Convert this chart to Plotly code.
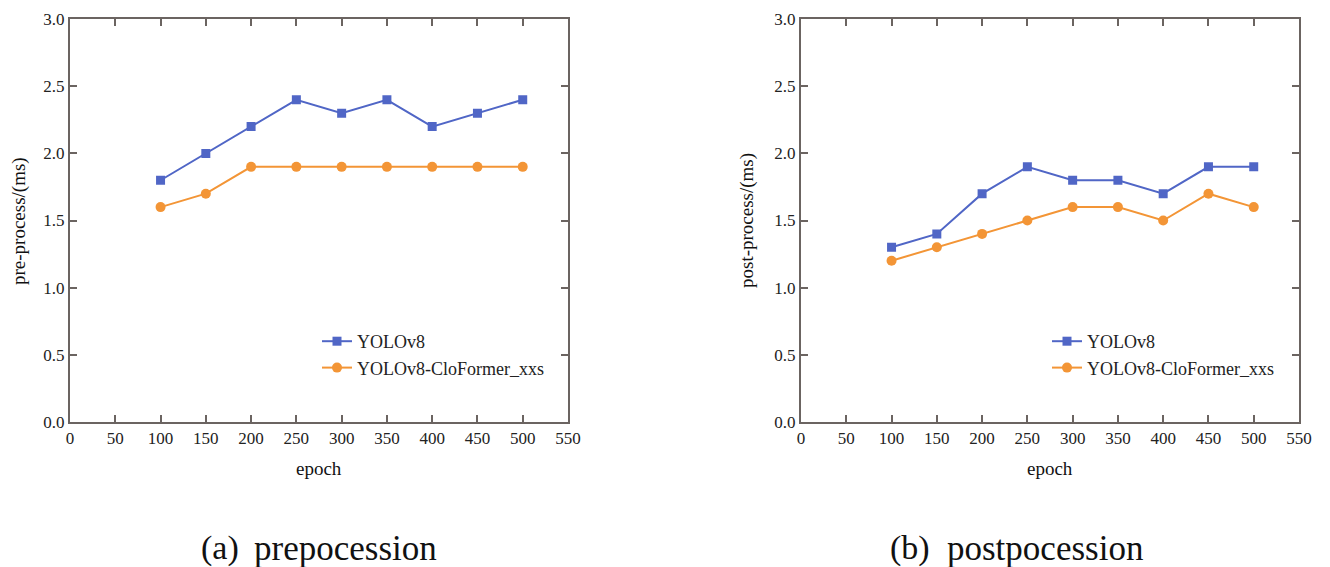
import plotly.graph_objects as go

epochs = [100, 150, 200, 250, 300, 350, 400, 450, 500]
pre_yolov8 = [1.8, 2.0, 2.2, 2.4, 2.3, 2.4, 2.2, 2.3, 2.4]
pre_cloformer = [1.6, 1.7, 1.9, 1.9, 1.9, 1.9, 1.9, 1.9, 1.9]
post_yolov8 = [1.3, 1.4, 1.7, 1.9, 1.8, 1.8, 1.7, 1.9, 1.9]
post_cloformer = [1.2, 1.3, 1.4, 1.5, 1.6, 1.6, 1.5, 1.7, 1.6]
series_names = ["YOLOv8", "YOLOv8-CloFormer_xxs"]
x_ticks = list(range(0, 551, 50))
y_ticks = [0.0, 0.5, 1.0, 1.5, 2.0, 2.5, 3.0]

W, H = 1330, 567
BLUE = "#5066c6"
ORANGE = "#f39536"
AX = "#6b6461"
FONT = "Liberation Serif"

def px(v):
    return v / W

def py(v):
    return 1 - v / H

fig = go.Figure()

for xa, ya, leg, yv, cv in [("x", "y", "legend", pre_yolov8, pre_cloformer),
                             ("x2", "y2", "legend2", post_yolov8, post_cloformer)]:
    fig.add_trace(go.Scatter(x=epochs, y=yv, name=series_names[0], xaxis=xa, yaxis=ya,
                             mode="lines+markers", legend=leg,
                             line=dict(color=BLUE, width=2),
                             marker=dict(symbol="square", size=9, color=BLUE)))
    fig.add_trace(go.Scatter(x=epochs, y=cv, name=series_names[1], xaxis=xa, yaxis=ya,
                             mode="lines+markers", legend=leg,
                             line=dict(color=ORANGE, width=2),
                             marker=dict(symbol="circle", size=10, color=ORANGE)))

ydom = [py(421.7), py(19.3)]
common_x = dict(range=[0, 550], tickvals=x_ticks, ticks="inside", ticklen=7, tickcolor=AX,
                tickwidth=1.5, showline=True, linecolor=AX, linewidth=2, mirror="ticks",
                showgrid=False, zeroline=False, automargin=False,
                tickfont=dict(family=FONT, size=17, color="#222"))
common_y = dict(range=[0, 3], tickvals=y_ticks, tickformat=".1f", ticks="inside", ticklen=7,
                tickcolor=AX, tickwidth=1.5, showline=True, linecolor=AX, linewidth=2,
                mirror="ticks", showgrid=False, zeroline=False, automargin=False,
                tickfont=dict(family=FONT, size=17, color="#222"))

leg_common = dict(xanchor="left", yanchor="top", bgcolor="rgba(0,0,0,0)",
                  font=dict(family=FONT, size=18, color="#222"), tracegroupgap=0, itemwidth=30)

fig.update_layout(
    width=W, height=H, margin=dict(l=0, r=0, t=0, b=0, pad=0, autoexpand=False),
    paper_bgcolor="white", plot_bgcolor="white",
    xaxis=dict(domain=[px(70), px(568)], anchor="y", **common_x),
    yaxis=dict(domain=ydom, anchor="x", **common_y),
    xaxis2=dict(domain=[px(801), px(1299)], anchor="y2", **common_x),
    yaxis2=dict(domain=ydom, anchor="x2", **common_y),
    legend=dict(x=px(317), y=py(323), **leg_common),
    legend2=dict(x=px(1047), y=py(323), **leg_common),
    showlegend=True,
)

annotations = [
    dict(text="pre-process/(ms)", x=px(19), y=py(221), textangle=-90, font_size=19, xa="center"),
    dict(text="post-process/(ms)", x=px(747), y=py(221), textangle=-90, font_size=19, xa="center"),
    dict(text="epoch", x=px(319), y=py(468), font_size=19, xa="center"),
    dict(text="epoch", x=px(1050), y=py(468), font_size=19, xa="center"),
    dict(text="(a)", x=px(199), y=py(548), font_size=34, xa="left"),
    dict(text="prepocession", x=px(252), y=py(548), font_size=35, xa="left"),
    dict(text="(b)", x=px(888), y=py(548), font_size=34, xa="left"),
    dict(text="postpocession", x=px(945), y=py(548), font_size=35, xa="left"),
]
for a in annotations:
    fs = a.pop("font_size")
    xa = a.pop("xa")
    fig.add_annotation(xref="paper", yref="paper", showarrow=False, xanchor=xa, yanchor="middle",
                       font=dict(family=FONT, size=fs, color="#111"), **a)

fig.write_html("out.html")
